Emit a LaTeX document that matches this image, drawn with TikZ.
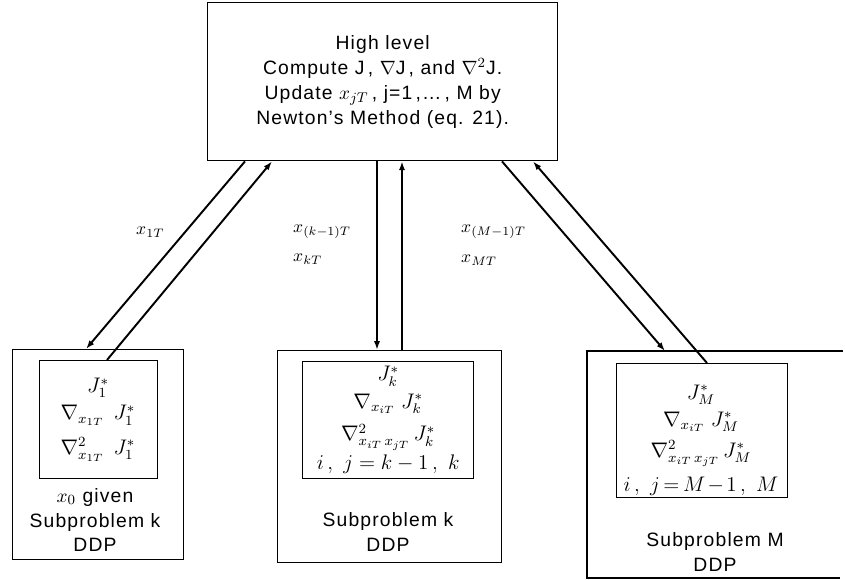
\documentclass[tikz,border=0pt]{standalone}
\usepackage{amsmath}
\usepackage{fontspec}
\setmainfont[LetterSpace=6]{Liberation Sans}
\usetikzlibrary{arrows.meta, calc}

\begin{document}
\begin{tikzpicture}[x=0.02cm, y=-0.02cm,
    box/.style={draw, line width=0.8pt, inner sep=0pt, anchor=north west},
    txt/.style={align=center, font=\fontsize{11}{14.2}\selectfont},
    mtxt/.style={align=center, font=\fontsize{11.5}{15.5}\selectfont},
    lab/.style={anchor=west, font=\normalsize},
    arr/.style={line width=1.1pt, -{Latex[length=5pt,width=3.5pt]}}]
    \useasboundingbox (0,0) rectangle (845,580);
    % High level
    \node[box, txt, minimum width=7cm, minimum height=3.16cm] (high) at (207,2)
        {High level\\ Compute J\,, $\nabla$J\,, and $\nabla^2$J.\\
         Update $x_{jT}$\,, j=1\,,\ldots\,, M by\\ Newton's Method (eq. 21).};
    % Subproblem 1
    \node[box, minimum width=3.42cm, minimum height=4.2cm] (sub1) at (12,349) {};
    \node[box, minimum width=2.36cm, minimum height=2.36cm] (in1) at (39,360) {};
    \node[mtxt] (m1) at (98,420)
        {$J_1^*$\\ $\nabla_{x_{1T}}\;\, J_1^*$\\[4pt] $\nabla^2_{x_{1T}}\;\, J_1^*$};
    \node[txt] (t1) at (95,520) {$x_0$ given\\ Subproblem k\\ DDP};
    % Subproblem k
    \node[box, minimum width=4.48cm, minimum height=4.24cm] (subk) at (277,350) {};
    \node[box, mtxt, minimum width=3.42cm, minimum height=2.34cm] (ink) at (302,361)
        {$J_k^*$\\ $\nabla_{x_{iT}}\; J_k^*$\\[3pt] $\nabla^2_{x_{iT}\,x_{jT}}\, J_k^*$\\[1pt]
         $i\,,\ j = k-1\,,\ k$};
    \node[txt] (tk) at (388,532) {Subproblem k\\ DDP};
    % Subproblem M
    \coordinate (subM) at (587,351);
    \draw[line width=0.8pt] (843,351) -- (subM) -- (587,578) -- (840,578);
    \node[box, minimum width=3.42cm, minimum height=2.68cm] (inM) at (616,363) {};
    \node[mtxt] (mM) at (701,440)
        {$J_M^*$\\ $\nabla_{x_{iT}}\; J_M^*$\\[2pt] $\nabla^2_{x_{iT}\,x_{jT}}\, J_M^*$\\[4pt]
         $i\,,\ j\mkern-2mu=\mkern-2mu M\mkern-2mu-\mkern-2mu 1\,,\ M$};
    \node[txt] (tM) at (715,552) {Subproblem M\\ DDP};
    % Setas
    \draw[arr] ($(high.south west)+(38,0)$) -- ($(sub1.north west)+(74,0)$);
    \draw[arr] ($(in1.north west)+(68,0)$) -- ($(high.south west)+(65,0)$);
    \draw[arr] ($(high.south west)+(170,0)$) -- ($(subk.north west)+(100,0)$);
    \draw[arr] ($(subk.north west)+(125,0)$) -- ($(high.south west)+(195,0)$);
    \draw[arr] ($(high.south west)+(295,0)$) -- ($(subM)+(78,0)$);
    \draw[arr] ($(inM.north west)+(91,0)$) -- ($(high.south west)+(326,0)$);
    % Rotulos
    \node[lab] (l1) at (130,232) {$x_{1T}$};
    \node[lab] (l2) at (287,232) {$x_{(k-1)T}$};
    \node[lab] (l3) at (287,259) {$x_{kT}$};
    \node[lab] (l4) at (455,232) {$x_{(M-1)T}$};
    \node[lab] (l5) at (455,260) {$x_{MT}$};
\end{tikzpicture}
\end{document}
